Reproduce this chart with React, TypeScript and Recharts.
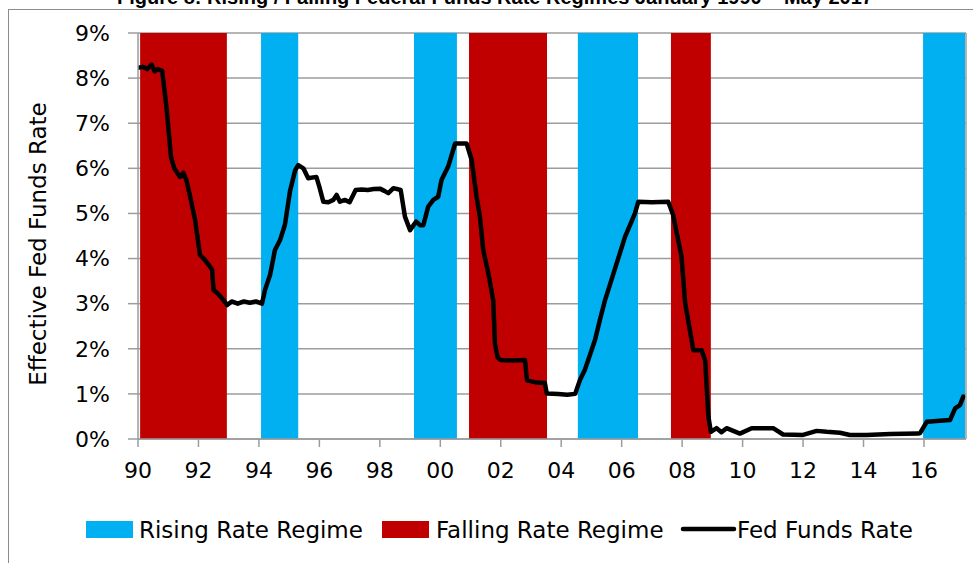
import { ComposedChart, Line, XAxis, YAxis, CartesianGrid, ReferenceArea } from "recharts";

// effective fed funds rate (decimal year, %)
const rateDates = [
  1990.0, 1990.15, 1990.3, 1990.45, 1990.55, 1990.65, 1990.8, 1990.95, 1991.09, 1991.2,
  1991.39, 1991.5, 1991.6, 1991.75, 1991.89, 1992.05, 1992.2, 1992.35, 1992.45, 1992.5,
  1992.65, 1992.8, 1992.95, 1993.1, 1993.3, 1993.5, 1993.7, 1993.9, 1994.1, 1994.2,
  1994.37, 1994.53, 1994.7, 1994.86, 1995.03, 1995.2, 1995.3, 1995.47, 1995.63, 1995.9,
  1996.0, 1996.13, 1996.3, 1996.46, 1996.57, 1996.68, 1996.85, 1997.0, 1997.2, 1997.4,
  1997.6, 1997.8, 1998.0, 1998.15, 1998.28, 1998.45, 1998.69, 1998.83, 1999.0, 1999.2,
  1999.33, 1999.44, 1999.6, 1999.77, 1999.93, 2000.04, 2000.26, 2000.49, 2000.87, 2001.04,
  2001.2, 2001.31, 2001.42, 2001.59, 2001.75, 2001.81, 2001.9, 2002.0, 2002.4, 2002.8,
  2002.87, 2003.2, 2003.46, 2003.52, 2003.9, 2004.2, 2004.46, 2004.62, 2004.78, 2004.95,
  2005.12, 2005.28, 2005.45, 2005.73, 2006.11, 2006.44, 2006.55, 2007.0, 2007.54, 2007.7,
  2007.98, 2008.1, 2008.37, 2008.64, 2008.76, 2008.87, 2008.95, 2009.14, 2009.3, 2009.47,
  2009.91, 2010.3, 2011.01, 2011.34, 2012.0, 2012.45, 2012.78, 2013.22, 2013.55, 2014.1,
  2014.88, 2015.81, 2015.87, 2016.09, 2016.86, 2017.03, 2017.19, 2017.3,
];
const rateValues = [
  8.23, 8.25, 8.2, 8.3, 8.15, 8.2, 8.16, 7.3, 6.26, 6.0,
  5.81, 5.9, 5.74, 5.3, 4.85, 4.08, 3.98, 3.85, 3.75, 3.3,
  3.22, 3.1, 2.97, 3.05, 3.0, 3.05, 3.02, 3.05, 3.0, 3.3,
  3.64, 4.19, 4.41, 4.75, 5.5, 5.96, 6.07, 6.0, 5.78, 5.81,
  5.59, 5.26, 5.25, 5.3, 5.41, 5.26, 5.3, 5.25, 5.52, 5.53,
  5.52, 5.54, 5.55, 5.5, 5.45, 5.56, 5.52, 4.93, 4.63, 4.82,
  4.74, 4.74, 5.15, 5.3, 5.37, 5.74, 6.04, 6.55, 6.55, 6.18,
  5.37, 4.93, 4.19, 3.67, 3.08, 2.1, 1.8, 1.75, 1.74, 1.75,
  1.3, 1.25, 1.24, 1.01, 1.0, 0.98, 1.0, 1.31, 1.53, 1.86,
  2.2, 2.64, 3.08, 3.67, 4.48, 5.0, 5.26, 5.25, 5.26, 4.97,
  4.04, 3.01, 1.97, 1.97, 1.75, 0.49, 0.16, 0.24, 0.15, 0.24,
  0.12, 0.24, 0.24, 0.1, 0.09, 0.18, 0.16, 0.14, 0.09, 0.09,
  0.11, 0.12, 0.13, 0.38, 0.42, 0.68, 0.75, 0.94,
];

// regimes (decimal year)
const risingStarts = [1994.07, 1999.13, 2004.55, 2015.97];
const risingEnds = [1995.3, 2000.55, 2006.54, 2017.36];
const fallingStarts = [1990.07, 2000.95, 2007.63];
const fallingEnds = [1992.94, 2003.53, 2008.95];

const yearTicks = [1990, 1992, 1994, 1996, 1998, 2000, 2002, 2004, 2006, 2008, 2010, 2012, 2014, 2016];
const pctTicks = [0, 1, 2, 3, 4, 5, 6, 7, 8, 9];
const regimeTicks = [0, 0.1, 0.2, 0.3, 0.4, 0.5, 0.6, 0.7, 0.8, 0.9, 1];

const RISING = "#00B0F0";
const FALLING = "#C00000";
const GRID = "#9c9c9c";
const FONT = "'DejaVu Sans', sans-serif";

const data = rateDates.map((t, i) => ({ t, rate: rateValues[i] }));

export default function App() {
  const tick = { fill: "#000", fontSize: 22, fontFamily: FONT };
  return (
    <div style={{ position: "absolute", left: 0, top: 0, width: 973, height: 563, overflow: "hidden", background: "#fff" }}>
      <div
        style={{
          position: "absolute",
          left: 8,
          top: 9,
          width: 1000,
          height: 600,
          border: "1px solid #8c8c8c",
        }}
      />
      <ComposedChart width={973} height={563} data={data} margin={{ top: 33, right: 0, bottom: 74, left: 0 }}>
        <CartesianGrid vertical={false} stroke={GRID} strokeWidth={1.5} yAxisId="left" />
        <XAxis
          dataKey="t"
          type="number"
          domain={[1990, 2017.39]}
          allowDataOverflow
          ticks={yearTicks}
          tickFormatter={(y) => String(y % 100).padStart(2, "0")}
          tick={tick}
          tickSize={8}
          tickMargin={15}
          height={50}
          axisLine={{ stroke: GRID, strokeWidth: 1.5 }}
          tickLine={{ stroke: GRID, strokeWidth: 1.5 }}
        />
        <YAxis
          yAxisId="left"
          domain={[0, 9]}
          ticks={pctTicks}
          tickFormatter={(v) => `${v}%`}
          tick={tick}
          tickSize={10}
          tickMargin={18}
          width={138}
          axisLine={{ stroke: GRID, strokeWidth: 1.5 }}
          tickLine={{ stroke: GRID, strokeWidth: 1.5 }}
        />
        <YAxis
          yAxisId="right"
          orientation="right"
          domain={[0, 1]}
          ticks={regimeTicks}
          tickFormatter={() => ""}
          tickSize={6}
          width={7}
          axisLine={{ stroke: GRID, strokeWidth: 1.5 }}
          tickLine={{ stroke: GRID, strokeWidth: 1.5 }}
        />
        {risingStarts.map((s, i) => (
          <ReferenceArea
            key={`r${i}`}
            yAxisId="left"
            x1={s}
            x2={risingEnds[i]}
            y1={0}
            y2={9}
            fill={RISING}
            fillOpacity={1}
            stroke="none"
          />
        ))}
        {fallingStarts.map((s, i) => (
          <ReferenceArea
            key={`f${i}`}
            yAxisId="left"
            x1={s}
            x2={fallingEnds[i]}
            y1={0}
            y2={9}
            fill={FALLING}
            fillOpacity={1}
            stroke="none"
          />
        ))}
        <Line
          yAxisId="left"
          type="linear"
          dataKey="rate"
          stroke="#000"
          strokeWidth={4.5}
          strokeLinejoin="round"
          strokeLinecap="round"
          dot={false}
          isAnimationActive={false}
        />
      </ComposedChart>
      <svg width={973} height={563} style={{ position: "absolute", left: 0, top: 0, pointerEvents: "none" }}>
        <text x={495} y={4} textAnchor="middle" fontFamily="'Liberation Sans', Arial, sans-serif" fontWeight="bold" fontSize={20}>
          Figure 8: Rising / Falling Federal Funds Rate Regimes January 1990 – May 2017
        </text>
        <text
          transform="translate(38,244) rotate(-90)"
          textAnchor="middle"
          dominantBaseline="central"
          fontFamily={FONT}
          fontSize={23}
        >
          Effective Fed Funds Rate
        </text>
        <rect x={86} y={521} width={47} height={17} fill={RISING} />
        <text x={139} y={538} fontFamily={FONT} fontSize={23}>Rising Rate Regime</text>
        <rect x={382} y={521} width={47} height={17} fill={FALLING} />
        <text x={436} y={538} fontFamily={FONT} fontSize={23}>Falling Rate Regime</text>
        <line x1={683} x2={734} y1={529} y2={529} stroke="#000" strokeWidth={4.5} strokeLinecap="round" />
        <text x={737} y={538} fontFamily={FONT} fontSize={23}>Fed Funds Rate</text>
      </svg>
    </div>
  );
}
